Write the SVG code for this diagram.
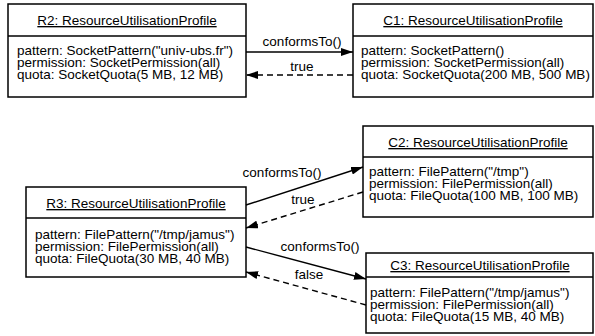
<svg xmlns="http://www.w3.org/2000/svg" width="595" height="336" viewBox="0 0 595 336">
<defs>
<marker id="ah" viewBox="0 0 12 8" refX="12" refY="4" markerWidth="12" markerHeight="8" markerUnits="userSpaceOnUse" orient="auto">
<path d="M0,0 L12,4 L0,8 Z" fill="#000"/>
</marker>
<style>
.box{fill:#fff;stroke:#000;stroke-width:1.5}
.div{stroke:#000;stroke-width:1.3}
text{font-family:"Liberation Sans",Arial,Helvetica,sans-serif;font-size:13.5px;fill:#000}
.t{text-anchor:middle;text-decoration:underline}
.c{text-anchor:middle}
.s{fill:none;stroke:#000;stroke-width:1.4}
.d{fill:none;stroke:#000;stroke-width:1.4;stroke-dasharray:6 4}
</style>
</defs>
<g id="R2">
<rect class="box" x="8" y="4" width="238" height="93"/>
<line class="div" x1="8" y1="36" x2="246" y2="36"/>
<text class="t" x="127" y="25">R2: ResourceUtilisationProfile</text>
<text x="17" y="55">pattern: SocketPattern("univ-ubs.fr")</text>
<text x="17" y="67">permission: SocketPermission(all)</text>
<text x="17" y="79">quota: SocketQuota(5 MB, 12 MB)</text>
</g>
<g id="C1">
<rect class="box" x="353" y="4" width="240" height="93"/>
<line class="div" x1="353" y1="36" x2="593" y2="36"/>
<text class="t" x="473" y="25">C1: ResourceUtilisationProfile</text>
<text x="361" y="55">pattern: SocketPattern()</text>
<text x="361" y="67">permission: SocketPermission(all)</text>
<text x="361" y="79">quota: SocketQuota(200 MB, 500 MB)</text>
</g>
<g id="C2">
<rect class="box" x="363" y="126" width="230" height="91"/>
<line class="div" x1="363" y1="157" x2="593" y2="157"/>
<text class="t" x="478" y="147">C2: ResourceUtilisationProfile</text>
<text x="369" y="176">pattern: FilePattern("/tmp")</text>
<text x="369" y="188">permission: FilePermission(all)</text>
<text x="369" y="200">quota: FileQuota(100 MB, 100 MB)</text>
</g>
<g id="R3">
<rect class="box" x="26" y="187" width="220" height="90"/>
<line class="div" x1="26" y1="218" x2="246" y2="218"/>
<text class="t" x="136" y="208">R3: ResourceUtilisationProfile</text>
<text x="35" y="239">pattern: FilePattern("/tmp/jamus")</text>
<text x="35" y="251">permission: FilePermission(all)</text>
<text x="35" y="263">quota: FileQuota(30 MB, 40 MB)</text>
</g>
<g id="C3">
<rect class="box" x="366" y="253" width="227" height="80"/>
<line class="div" x1="366" y1="277" x2="593" y2="277"/>
<text class="t" x="480" y="270">C3: ResourceUtilisationProfile</text>
<text x="370" y="297">pattern: FilePattern("/tmp/jamus")</text>
<text x="370" y="309">permission: FilePermission(all)</text>
<text x="370" y="321">quota: FileQuota(15 MB, 40 MB)</text>
</g>
<g id="connectors">
<line class="s" x1="246" y1="52" x2="353" y2="52" marker-end="url(#ah)"/>
<line class="d" x1="353" y1="75" x2="246" y2="75" marker-end="url(#ah)"/>
<line class="s" x1="246" y1="205" x2="363" y2="167" marker-end="url(#ah)"/>
<line class="d" x1="363" y1="192" x2="246" y2="228" marker-end="url(#ah)"/>
<line class="s" x1="246" y1="247" x2="366" y2="279" marker-end="url(#ah)"/>
<line class="d" x1="366" y1="305" x2="246" y2="272" marker-end="url(#ah)"/>
<text class="c" x="282" y="177">conformsTo()</text>
<text class="c" x="302" y="46">conformsTo()</text>
<text class="c" x="302" y="71">true</text>
<text class="c" x="303" y="204">true</text>
<text class="c" x="320" y="251">conformsTo()</text>
<text class="c" x="309" y="279">false</text>
</g>
</svg>
